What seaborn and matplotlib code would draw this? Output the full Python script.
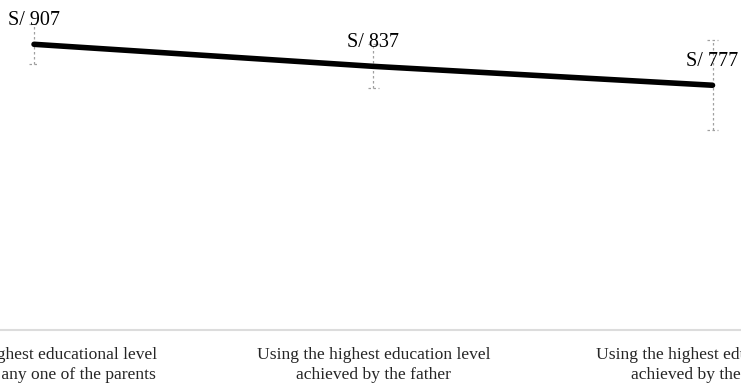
import matplotlib
matplotlib.use("Agg")
import matplotlib.pyplot as plt
import seaborn as sns
import numpy as np
import pandas as pd

categories = [
    "Using the highest educational level\nachieved by any one of the parents",
    "Using the highest education level\nachieved by the father",
    "Using the highest education level\nachieved by the mother",
]
values = [907, 837, 777]
errors = [63, 70, 143]
labels = ["S/ 907", "S/ 837", "S/ 777"]

sns.set_style("white")
plt.rcParams['font.family'] = ['Liberation Serif', 'DejaVu Serif']

fig = plt.figure(figsize=(7.41, 3.86), dpi=100)
W, H = 741, 386
ax = fig.add_axes([-135.6 / W, 56 / H, 1017.75 / W, 315 / H])

df = pd.DataFrame({"pos": np.arange(len(values)), "value": values, "err": errors})
pos = df["pos"].to_numpy()
val = df["value"].to_numpy()
err = df["err"].to_numpy()

# error bars (dotted, gray)
ax.vlines(pos, val - err, val + err, colors="#a0a0a0", linewidth=0.9,
          linestyles=(0, (2, 2)), zorder=1)
cap = 0.016
ax.hlines(val + err, pos - cap, pos + cap, colors="#a0a0a0", linewidth=0.9,
          linestyles=(0, (2, 2)), zorder=1)
ax.hlines(val - err, pos - cap, pos + cap, colors="#a0a0a0", linewidth=0.9,
          linestyles=(0, (2, 2)), zorder=1)

sns.lineplot(data=df, x="pos", y="value", color="black", linewidth=4.0,
             ax=ax, zorder=3, solid_capstyle="round")

for p, v, lbl in zip(pos, val, labels):
    ax.annotate(lbl, (p, v), xytext=(0, 14), textcoords="offset points",
                ha="center", va="baseline", fontsize=14.5, color="black")

ax.set_xlim(-0.5, 2.5)
ax.set_ylim(0, 1000)
ax.set_xticks(pos)
ax.set_xticklabels(categories, fontsize=12.6, linespacing=1.3)
ax.tick_params(axis="x", length=0, pad=12.5)
ax.set_yticks([])
ax.set_xlabel("")
ax.set_ylabel("")
for s in ["left", "top", "right"]:
    ax.spines[s].set_visible(False)
ax.spines["bottom"].set_color("#dcdcdc")
ax.spines["bottom"].set_linewidth(1.5)

fig.savefig("out.png", dpi=100)
